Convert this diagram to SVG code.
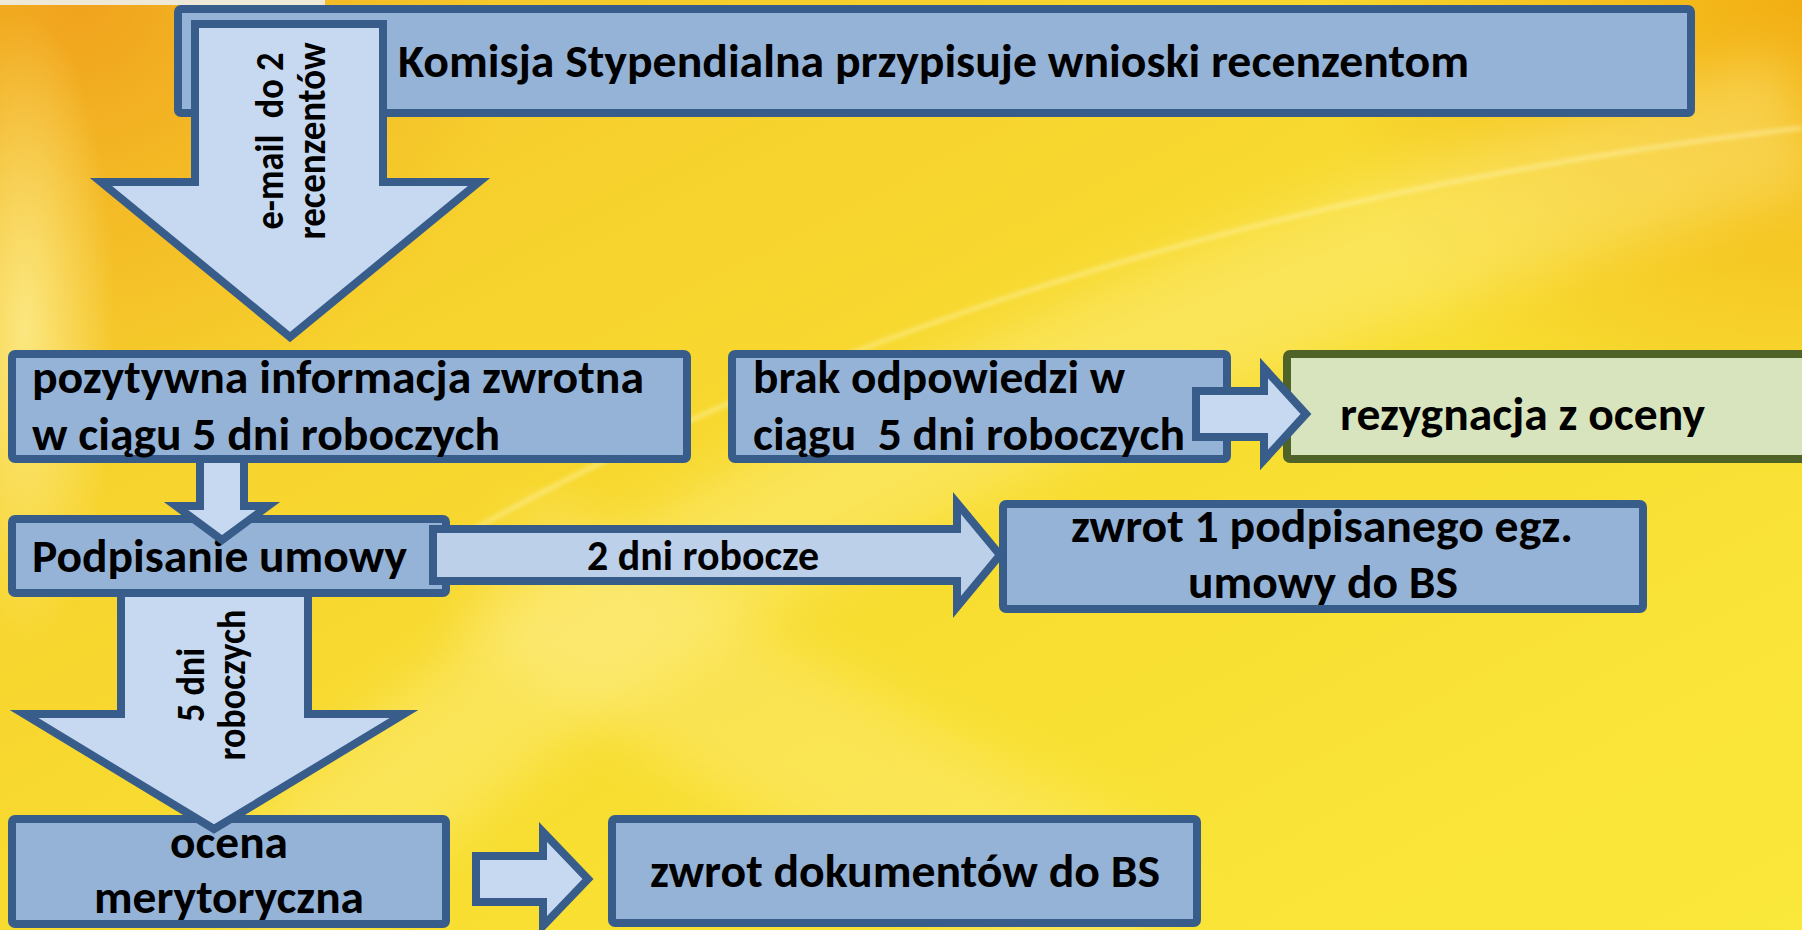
<svg xmlns="http://www.w3.org/2000/svg" width="1802" height="930" viewBox="0 0 1802 930">
<defs>
  <linearGradient id="bg" x1="0" y1="0" x2="1" y2="1">
    <stop offset="0" stop-color="#F4C02A"/>
    <stop offset="0.3" stop-color="#F7D42E"/>
    <stop offset="0.6" stop-color="#F8DE31"/>
    <stop offset="1" stop-color="#FAE83B"/>
  </linearGradient>
  <radialGradient id="tl" cx="80" cy="0" r="440" gradientUnits="userSpaceOnUse">
    <stop offset="0" stop-color="#F0A01C" stop-opacity="0.95"/>
    <stop offset="0.5" stop-color="#F2AE20" stop-opacity="0.5"/>
    <stop offset="1" stop-color="#F2AE20" stop-opacity="0"/>
  </radialGradient>
  <radialGradient id="tr" cx="1802" cy="0" r="480" gradientUnits="userSpaceOnUse">
    <stop offset="0" stop-color="#F2AC12" stop-opacity="0.95"/>
    <stop offset="1" stop-color="#F2AC12" stop-opacity="0"/>
  </radialGradient>
  <radialGradient id="lw" cx="0.5" cy="0.5" r="0.5">
    <stop offset="0" stop-color="#FCEB8A" stop-opacity="0.9"/>
    <stop offset="1" stop-color="#FCEB8A" stop-opacity="0"/>
  </radialGradient>
  <filter id="blur" x="-20%" y="-20%" width="140%" height="140%"><feGaussianBlur stdDeviation="25"/></filter>
  <filter id="blur2" x="-5%" y="-5%" width="110%" height="110%"><feGaussianBlur stdDeviation="2"/></filter>
  <style>
    .box{fill:#95B3D7;stroke:#385D8A;stroke-width:8;}
    .gbox{fill:#D7E4BD;stroke:#4F6228;stroke-width:8;}
    .arr{fill:#C6D9F1;stroke:#385D8A;stroke-width:8;stroke-linejoin:miter;}
    .arr2{fill:#BCD0EA;stroke:#385D8A;stroke-width:8;stroke-linejoin:miter;}
    text{font-family:Carlito,Lato,"Liberation Sans",sans-serif;font-weight:700;fill:#000;}
    text.t{font-size:47px;}
    text.s{font-size:43px;}
    text.v{font-size:41px;}
  </style>
</defs>

<g id="background">
  <rect x="0" y="0" width="1802" height="930" fill="url(#bg)"/>
  <rect x="0" y="0" width="600" height="500" fill="url(#tl)"/>
  <rect x="1200" y="0" width="602" height="500" fill="url(#tr)"/>
  <ellipse cx="25" cy="330" rx="90" ry="320" fill="url(#lw)"/>
  <path d="M 250,930 Q 700,430 1802,120" fill="none" stroke="#FFF6A0" stroke-opacity="0.35" stroke-width="140" filter="url(#blur)"/>
  <path d="M 420,560 Q 1000,220 1802,128" fill="none" stroke="#FFF4B0" stroke-opacity="0.55" stroke-width="4" filter="url(#blur2)"/>
  <path d="M 500,560 Q 800,760 1150,930" fill="none" stroke="#FFF3A0" stroke-opacity="0.3" stroke-width="160" filter="url(#blur)"/>
  <rect x="0" y="0" width="325" height="5" fill="#EEE8D6"/>
</g>

<g id="node-komisja">
  <rect class="box" x="178" y="9" width="1513" height="104" rx="3"/>
  <text class="t" x="398" y="77" textLength="1071" lengthAdjust="spacingAndGlyphs">Komisja Stypendialna przypisuje wnioski recenzentom</text>
</g>

<g id="node-pozytywna">
  <rect class="box" x="12" y="354" width="675" height="105" rx="3"/>
  <text class="t" x="32" y="393" textLength="612" lengthAdjust="spacingAndGlyphs">pozytywna informacja zwrotna</text>
  <text class="t" x="32" y="450" textLength="468" lengthAdjust="spacingAndGlyphs">w ciągu 5 dni roboczych</text>
</g>

<g id="node-brak">
  <rect class="box" x="732" y="354" width="495" height="105" rx="3"/>
  <text class="t" x="753" y="393" textLength="372" lengthAdjust="spacingAndGlyphs">brak odpowiedzi w</text>
  <text class="t" x="753" y="450" textLength="432" lengthAdjust="spacingAndGlyphs" xml:space="preserve">ciągu  5 dni roboczych</text>
</g>

<g id="node-rezygnacja">
  <rect class="gbox" x="1287" y="354" width="540" height="105" rx="3"/>
  <text class="t" x="1340" y="430" textLength="365" lengthAdjust="spacingAndGlyphs">rezygnacja z oceny</text>
</g>

<g id="node-podpisanie">
  <rect class="box" x="12" y="519" width="434" height="74" rx="3"/>
  <text class="t" x="32" y="572" textLength="375" lengthAdjust="spacingAndGlyphs">Podpisanie umowy</text>
</g>

<g id="node-zwrot1">
  <rect class="box" x="1003" y="504" width="640" height="105" rx="3"/>
  <text class="t" x="1322" y="542" text-anchor="middle" textLength="502" lengthAdjust="spacingAndGlyphs">zwrot 1 podpisanego egz.</text>
  <text class="t" x="1323" y="598" text-anchor="middle" textLength="270" lengthAdjust="spacingAndGlyphs">umowy do BS</text>
</g>

<g id="node-ocena">
  <rect class="box" x="12" y="819" width="434" height="105" rx="3"/>
  <text class="t" x="229" y="858" text-anchor="middle" textLength="118" lengthAdjust="spacingAndGlyphs">ocena</text>
  <text class="t" x="229" y="913" text-anchor="middle" textLength="270" lengthAdjust="spacingAndGlyphs">merytoryczna</text>
</g>

<g id="node-zwrot-dokumentow">
  <rect class="box" x="612" y="819" width="585" height="104" rx="3"/>
  <text class="t" x="905" y="887" text-anchor="middle" textLength="510" lengthAdjust="spacingAndGlyphs">zwrot dokumentów do BS</text>
</g>

<g id="connectors">
  <g id="arrow-email">
    <polygon class="arr" points="195,24 383,24 383,182 479,182 290,337 101,182 195,182"/>
    <text class="v" transform="rotate(-90 283 141)" x="283" y="141" text-anchor="middle" textLength="177" lengthAdjust="spacingAndGlyphs" xml:space="preserve">e-mail  do 2</text>
    <text class="v" transform="rotate(-90 325 141)" x="325" y="141" text-anchor="middle" textLength="197" lengthAdjust="spacingAndGlyphs">recenzentów</text>
  </g>
  <g id="arrow-pozytywna-podpisanie">
    <polygon class="arr" points="200,459 244,459 244,506 268,506 222,540 176,506 200,506"/>
  </g>
  <g id="arrow-podpisanie-zwrot1">
    <polygon class="arr2" points="433,529 957,529 957,503 1000,555 957,607 957,581 433,581"/>
    <text class="s" x="587" y="570" textLength="232" lengthAdjust="spacingAndGlyphs">2 dni robocze</text>
  </g>
  <g id="arrow-brak-rezygnacja">
    <polygon class="arr" points="1196,391 1264,391 1264,368 1306,414 1264,460 1264,437 1196,437"/>
  </g>
  <g id="arrow-podpisanie-ocena">
    <polygon class="arr" points="121,593 308,593 308,714 404,714 214,829 24,714 121,714"/>
    <text class="v" transform="rotate(-90 204 685)" x="204" y="685" text-anchor="middle" textLength="74" lengthAdjust="spacingAndGlyphs">5 dni</text>
    <text class="v" transform="rotate(-90 245 685)" x="245" y="685" text-anchor="middle" textLength="151" lengthAdjust="spacingAndGlyphs">roboczych</text>
  </g>
  <g id="arrow-ocena-zwrot">
    <polygon class="arr" points="476,856 543,856 543,832 588,879 543,926 543,902 476,902"/>
  </g>
</g>
</svg>
